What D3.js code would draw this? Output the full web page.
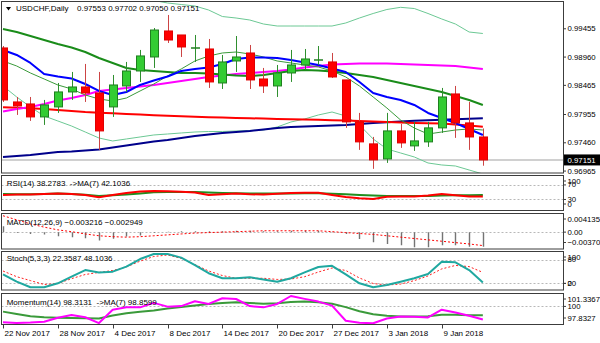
<!DOCTYPE html>
<html><head><meta charset="utf-8">
<script src="https://cdn.jsdelivr.net/npm/d3@7"></script>
<style>
body{margin:0;background:#fff}
svg{display:block;font-family:"Liberation Sans",Arial,sans-serif;font-size:8px}
</style>
</head><body>
<svg id="chart" width="600" height="343"></svg>
<script>
// ---- USDCHF daily candles ----
const symbol = "USDCHF", period = "Daily";
const dates = ["2017-11-22","2017-11-23","2017-11-24","2017-11-27","2017-11-28","2017-11-29","2017-11-30","2017-12-01",
  "2017-12-04","2017-12-05","2017-12-06","2017-12-07","2017-12-08","2017-12-11","2017-12-12","2017-12-13",
  "2017-12-14","2017-12-15","2017-12-18","2017-12-19","2017-12-20","2017-12-21","2017-12-22","2017-12-26",
  "2017-12-27","2017-12-28","2017-12-29","2018-01-02","2018-01-03","2018-01-04","2018-01-05","2018-01-08",
  "2018-01-09","2018-01-10","2018-01-11","2018-01-12"];
const open  = [0.99111,0.98166,0.98131,0.97904,0.98079,0.98341,0.98428,0.98323,0.98079,0.98446,0.98708,0.98953,
  0.99408,0.99338,0.99105,0.99093,0.98498,0.98883,0.99023,0.98568,0.98446,0.98673,0.98813,0.98898,
  0.98866,0.98551,0.97817,0.97432,0.97169,0.97659,0.97397,0.97467,0.97712,0.98306,0.97799,0.97553];
const high  = [0.99145,0.98253,0.98253,0.98201,0.98498,0.98691,0.98831,0.98691,0.98638,0.98866,0.99076,0.99460,
  0.99688,0.99338,0.99338,0.99268,0.98988,0.99320,0.99163,0.98761,0.98813,0.99076,0.99093,0.99145,
  0.99023,0.98551,0.97974,0.97554,0.97974,0.97782,0.97817,0.97817,0.98411,0.98446,0.98166,0.97702];
const low   = [0.98166,0.97939,0.97834,0.97764,0.97974,0.98201,0.98166,0.97327,0.97904,0.98341,0.98516,0.98761,
  0.99198,0.98953,0.98866,0.98411,0.98393,0.98691,0.98393,0.98323,0.98253,0.98516,0.98726,0.98813,
  0.98586,0.97712,0.97327,0.96995,0.97099,0.97362,0.97309,0.97379,0.97624,0.97537,0.97327,0.97050];
const close = [0.98201,0.98096,0.97904,0.98114,0.98341,0.98428,0.98323,0.97659,0.98463,0.98708,0.98971,0.99425,
  0.99250,0.99128,0.99111,0.98516,0.98866,0.98953,0.98551,0.98446,0.98673,0.98813,0.98918,0.98903,
  0.98603,0.97817,0.97467,0.97152,0.97659,0.97449,0.97484,0.97712,0.98253,0.97799,0.97553,0.97151];

// ---- price overlays ----
const bandUpper = [null,null,null,null,null,null,null,null,null,null,null,
  0.99941,0.99898,0.99871,0.99845,0.99775,0.99661,0.99635,0.99600,0.99530,0.99495,0.99495,0.99495,0.99495,
  0.99495,0.99548,0.99635,0.99714,0.99784,0.99822,0.99801,0.99714,0.99618,0.99530,0.99390,0.99364];
const bandMiddle = [0.99443,0.99390,0.99320,0.99250,0.99180,0.99119,0.99040,0.98935,0.98848,0.98760,0.98725,0.98708,
  0.98690,0.98673,0.98673,0.98664,0.98646,0.98629,0.98620,0.98638,0.98673,0.98708,0.98725,0.98716,
  0.98699,0.98673,0.98638,0.98603,0.98550,0.98498,0.98445,0.98393,0.98340,0.98270,0.98200,0.98113];
const bandLower = [0.98445,0.98253,0.98078,0.97920,0.97833,0.97745,0.97640,0.97535,0.97483,0.97518,0.97553,0.97588,
  0.97605,0.97623,0.97640,0.97649,0.97649,0.97658,0.97666,0.97675,0.97728,0.97815,0.97868,0.97938,
  0.97990,0.97920,0.97763,0.97518,0.97343,0.97273,0.97203,0.97098,0.97063,0.97045,0.96975,0.96905];
const maFast = [0.98883,0.98795,0.98673,0.98568,0.98463,0.98393,0.98288,0.98218,0.98183,0.98235,0.98358,0.98480,
  0.98620,0.98743,0.98883,0.98970,0.99023,0.99040,0.99005,0.98953,0.98883,0.98848,0.98813,0.98778,
  0.98708,0.98603,0.98445,0.98253,0.98060,0.97850,0.97710,0.97605,0.97640,0.97675,0.97693,0.97675];
const maBlue = [0.99075,0.98988,0.98848,0.98655,0.98611,0.98576,0.98480,0.98358,0.98288,0.98340,0.98463,0.98541,
  0.98611,0.98708,0.98743,0.98769,0.98830,0.98918,0.98944,0.98944,0.98935,0.98900,0.98856,0.98813,
  0.98751,0.98690,0.98515,0.98323,0.98253,0.98200,0.98113,0.97973,0.97885,0.97798,0.97693,0.97588];
const maMagenta = [0.97999,0.98043,0.98078,0.98130,0.98191,0.98235,0.98288,0.98358,0.98384,0.98410,0.98436,0.98463,
  0.98498,0.98533,0.98568,0.98603,0.98629,0.98655,0.98673,0.98690,0.98708,0.98734,0.98769,0.98795,
  0.98821,0.98830,0.98839,0.98839,0.98839,0.98830,0.98821,0.98813,0.98804,0.98795,0.98769,0.98743];
const maRed = [0.98072,0.98064,0.98055,0.98043,0.98025,0.98008,0.97990,0.97978,0.97967,0.97955,0.97945,0.97934,
  0.97924,0.97915,0.97908,0.97899,0.97892,0.97885,0.97880,0.97875,0.97868,0.97864,0.97859,0.97854,
  0.97847,0.97840,0.97833,0.97824,0.97815,0.97806,0.97798,0.97792,0.97787,0.97771,0.97754,0.97733];
const maNavy = [0.97203,0.97220,0.97238,0.97264,0.97290,0.97299,0.97316,0.97334,0.97369,0.97404,0.97439,0.97474,
  0.97500,0.97535,0.97570,0.97596,0.97623,0.97640,0.97658,0.97684,0.97710,0.97728,0.97736,0.97745,
  0.97754,0.97763,0.97780,0.97798,0.97810,0.97824,0.97836,0.97845,0.97854,0.97862,0.97871,0.97880];
const priceTicks = [0.99455,0.98960,0.98465,0.97955,0.97460,0.96965];

// ---- oscillators ----
const rsi = [42.3,43.7,43.7,45,46.4,45,42.3,36,42.3,47.8,52,53.3,52.5,51.4,49.2,42.3,44.2,46.4,44.2,43.7,
  45.6,47.8,48.6,48.6,42.3,36.8,33.2,31.3,37.6,38.2,38.2,40.9,45,41.5,38.2,38.2783];
const rsiMa = [45,44.5,44.2,45,46.4,45,42.9,39.6,41.5,43.7,46.4,49.7,50.5,50.5,50.5,49.2,47.8,47,46.4,46.4,
  46.4,46.7,47,47,45.6,44.2,42.3,40.9,39.6,39.6,39.6,39.6,40.9,41.5,41.8,42.1036];
const rsiTicks = [100,70,30,0], rsiLevels = [70,30];

const macd = [0.0013,-0.0002,-0.0004,-0.00054,-0.00091,-0.00113,-0.00135,-0.00185,-0.00148,-0.00098,-0.00076,-0.00017,
  0.0001,0.0002,0.0002,0.0002,0.0002,0.0003,0.0003,0.0002,0.0002,0.0003,0.0003,0.0003,
  0.0001,-0.0004,-0.0015,-0.0022,-0.0026,-0.0029,-0.0033,-0.0033,-0.0029,-0.0029,-0.0032,-0.003216];
const macdSignal = [0.0036,0.0027,0.0018,0.0011,0.0005,0.0001,-0.0004,-0.0008,-0.0010,-0.0011,-0.0010,-0.0008,
  -0.0006,-0.0004,-0.0002,-0.0001,0,0.0001,0.0002,0.0003,0.0003,0.0003,0.0003,0.0003,
  0.0001,-0.0001,-0.0003,-0.0005,-0.0008,-0.0011,-0.0014,-0.0017,-0.0020,-0.0023,-0.0026,-0.002949];
const macdTicks = [0.004135,0,-0.003704], macdLevels = [0];

const stochMain = [43.2,24.2,9.8,9.8,20,37,54,48,50,63,82.5,95.4,95.4,86,67,46,33,33,35.5,30,
  24,33,48,62,65,43,20,10,15.7,24,33,44,75.6,74,54,22.3587];
const stochSignal = [51.7,37,27,17,19.5,32,42.7,48,53,62,77,89,92.8,84,68,51.7,40,33,33,33,
  30,31,37,49,59.4,53,33.7,19.5,15.7,18,27,39,57,66,63,48.1036];
const stochTicks = [100,80,20,0], stochLevels = [80,20];

const momentum = [97.96,97.86,97.92,98.03,98.55,98.90,98.61,97.86,99.58,99.88,99.88,100.45,99.97,100.04,100.66,100.32,
  101.05,100.95,100.04,99.88,100.32,101.3367,100.97,100.62,100.10,98.16,97.90,97.8327,98.45,98.72,98.68,98.59,
  99.58,99.23,98.81,98.3131];
const momentumMa = [99.33,99.03,98.74,98.61,98.55,98.51,98.48,98.46,98.83,99.13,99.33,99.48,99.74,99.91,100.13,100.32,
  100.44,100.52,100.45,100.34,100.41,100.56,100.62,100.52,100.34,99.91,99.39,99.00,98.81,98.72,98.72,98.74,
  98.94,98.94,98.87,98.8599];
const momTicks = [101.3367,100,97.8327], momLevels = [100];

// ---- layout ----
const svg = d3.select("#chart");
const left = 1.5, right = 563.5;
const panes = {
  main:  {top: 1.5,   bottom: 173},
  rsi:   {top: 175.5, bottom: 210.5},
  macd:  {top: 213.5, bottom: 249},
  stoch: {top: 251.5, bottom: 290},
  mom:   {top: 293.5, bottom: 324.5}
};
const n = dates.length, last = n - 1;
const x = d3.scaleLinear().domain([0, last]).range([3, 482.85]);
const yMain  = d3.scaleLinear().domain([0.96965, 0.99455]).range([170.57, 28.29]);
const yRsi   = d3.scaleLinear().domain([0, 100]).range([210.4, 174]);
const yMacd  = d3.scaleLinear().domain([-0.003704, 0.004135]).range([249, 213.3]);
const yStoch = d3.scaleLinear().domain([0, 100]).range([291.1, 252.2]);
const yMom   = d3.scaleLinear().domain([97.8327, 101.3367]).range([323.3, 296]);

svg.append("rect").attr("width", 600).attr("height", 343).attr("fill", "#fff");
const defs = svg.append("defs");
const layers = {};
Object.entries(panes).forEach(([k, p]) => {
  defs.append("clipPath").attr("id", "clip-" + k).append("rect")
    .attr("x", left).attr("y", p.top).attr("width", right - left).attr("height", p.bottom - p.top);
  layers[k] = svg.append("g").attr("clip-path", `url(#clip-${k})`);
});

function drawLine(g, data, y, color, width, dash) {
  const line = d3.line().defined(d => d != null).x((d, i) => x(i)).y(d => y(d));
  g.append("path").datum(data).attr("d", line).attr("fill", "none")
    .attr("stroke", color).attr("stroke-width", width)
    .attr("stroke-linejoin", "round").attr("stroke-dasharray", dash || null);
}
function levels(g, vals, y) {
  g.selectAll(null).data(vals).enter().append("line")
    .attr("x1", left).attr("x2", right)
    .attr("y1", d => Math.round(y(d)) + 0.5).attr("y2", d => Math.round(y(d)) + 0.5)
    .attr("stroke", "#b8b8b8").attr("stroke-width", 1).attr("stroke-dasharray", "2,2");
}

// ---- main pane ----
const gm = layers.main;
gm.append("line").attr("x1", left).attr("x2", right)
  .attr("y1", yMain(close[last])).attr("y2", yMain(close[last]))
  .attr("stroke", "#d0d0d0").attr("stroke-width", 2);
drawLine(gm, bandUpper, yMain, "#6cc894", 1);
drawLine(gm, bandLower, yMain, "#6cc894", 1);
drawLine(gm, maNavy, yMain, "#00008b", 2);
drawLine(gm, maRed, yMain, "#ff0000", 2);
drawLine(gm, maMagenta, yMain, "#ff00ff", 2);
drawLine(gm, bandMiddle, yMain, "#1a8c1a", 2);
drawLine(gm, maFast, yMain, "#3a9a3a", 1);
drawLine(gm, maBlue, yMain, "#0000ff", 2);

const candles = d3.range(n).map(i => ({i, o: open[i], h: high[i], l: low[i], c: close[i]}));
const cg = gm.selectAll(".candle").data(candles).enter().append("g");
cg.append("line")
  .attr("x1", d => Math.round(x(d.i)) + 0.5).attr("x2", d => Math.round(x(d.i)) + 0.5)
  .attr("y1", d => yMain(d.h)).attr("y2", d => yMain(d.l))
  .attr("stroke", d => d.c >= d.o ? "#2f8f2f" : "#cc4444").attr("stroke-width", 1);
cg.each(function(d) {
  const g = d3.select(this);
  const cx = Math.round(x(d.i));
  const yTop = yMain(Math.max(d.o, d.c)), yBot = yMain(Math.min(d.o, d.c));
  if (yBot - yTop < 1.5) {
    g.append("line").attr("x1", cx - 4).attr("x2", cx + 5)
      .attr("y1", (yTop + yBot) / 2).attr("y2", (yTop + yBot) / 2)
      .attr("stroke", "#1f7f1f").attr("stroke-width", 1.5);
  } else {
    const up = d.c >= d.o;
    g.append("rect").attr("x", cx - 3.5).attr("y", yTop).attr("width", 8).attr("height", yBot - yTop)
      .attr("fill", up ? "#33cc33" : "#ff0000").attr("stroke", up ? "#1f7f1f" : "#e00000").attr("stroke-width", 1);
  }
});

// ---- RSI ----
levels(layers.rsi, rsiLevels, yRsi);
drawLine(layers.rsi, rsiMa, yRsi, "#1f8f1f", 2);
drawLine(layers.rsi, rsi, yRsi, "#ff0000", 2);

// ---- MACD ----
levels(layers.macd, macdLevels, yMacd);
layers.macd.selectAll(null).data(macd).enter().append("line")
  .attr("x1", (d, i) => Math.round(x(i)) + 0.5).attr("x2", (d, i) => Math.round(x(i)) + 0.5)
  .attr("y1", yMacd(0)).attr("y2", d => yMacd(d))
  .attr("stroke", "#747474").attr("stroke-width", 1.4);
drawLine(layers.macd, macdSignal, yMacd, "#ff0000", 1, "2,2");

// ---- Stochastic ----
levels(layers.stoch, stochLevels, yStoch);
drawLine(layers.stoch, stochSignal, yStoch, "#ff2020", 1, "2,2");
drawLine(layers.stoch, stochMain, yStoch, "#20a8a0", 2);

// ---- Momentum ----
levels(layers.mom, momLevels, yMom);
drawLine(layers.mom, momentumMa, yMom, "#3a9a3a", 2);
drawLine(layers.mom, momentum, yMom, "#ff00ff", 2);

// ---- pane borders ----
Object.values(panes).forEach(p => {
  svg.append("rect").attr("x", left).attr("y", p.top).attr("width", right - left).attr("height", p.bottom - p.top)
    .attr("fill", "none").attr("stroke", "#3c3c3c").attr("stroke-width", 1);
});

// ---- right-hand scales ----
const labelFont = "Liberation Sans, Arial, sans-serif";
function rightAxis(y, ticks, fmt, pane) {
  const g = svg.append("g").attr("transform", `translate(${right},0)`)
    .call(d3.axisRight(y).tickValues(ticks).tickSize(2.5).tickPadding(1.5).tickFormat(fmt));
  g.select(".domain").remove();
  g.selectAll("line").attr("stroke", "#3c3c3c");
  g.selectAll("text").attr("font-size", 7.8).attr("font-family", labelFont).attr("fill", "#000");
  if (pane) {
    g.selectAll(".tick").attr("transform", d => {
      const yy = Math.min(Math.max(y(d), pane.top + 5.5), pane.bottom - 6.5);
      return `translate(0,${yy})`;
    });
  }
  return g;
}
rightAxis(yMain, priceTicks, d3.format(".5f"));
rightAxis(yRsi, rsiTicks, d3.format("d"), panes.rsi);
rightAxis(yMacd, macdTicks, d => d === 0 ? "0.00" : d3.format(".6f")(d), panes.macd);
rightAxis(yStoch, stochTicks, d3.format("d"), panes.stoch);
rightAxis(yMom, momTicks, d => d === 100 ? "100" : d3.format(".4f")(d), panes.mom);

// last price marker
const yl = yMain(close[last]);
svg.append("rect").attr("x", 564).attr("y", yl - 5.5).attr("width", 36).attr("height", 11).attr("fill", "#000");
svg.append("text").attr("x", 567.5).attr("y", yl + 3).attr("fill", "#fff").attr("font-size", 7.8)
  .text(d3.format(".5f")(close[last]));

// ---- time axis ----
const parse = d3.timeParse("%Y-%m-%d"), fmtDate = d3.timeFormat("%-d %b %Y");
const ta = svg.append("g").attr("transform", `translate(0,${panes.mom.bottom})`)
  .call(d3.axisBottom(x).tickValues(d3.range(0, n, 4)).tickSize(4).tickPadding(2.2)
    .tickFormat(i => fmtDate(parse(dates[i]))));
ta.select(".domain").remove();
ta.selectAll(".tick").attr("transform", d => `translate(${Math.round(x(d)) + 0.5},0)`);
ta.selectAll("line").attr("stroke", "#3c3c3c");
ta.selectAll("text").attr("text-anchor", "start").attr("x", 1)
  .attr("font-size", 8).attr("font-family", labelFont).attr("fill", "#000");

// ---- captions ----
svg.append("path").attr("d", "M6,7L11,7L8.5,10.5Z").attr("fill", "#000");
svg.append("text").attr("x", 16).attr("y", 11.3).text(`${symbol},${period}`);
svg.append("text").attr("x", 77).attr("y", 11.3)
  .text([open[last], high[last], low[last], close[last]].map(d3.format(".5f")).join(" "));
const f4 = d3.format(".4f"), f6 = d3.format(".6f");
const caption = (yy, s) => svg.append("text").attr("x", 6.7).attr("y", yy).style("white-space", "pre").text(s);
caption(186.3, `RSI(14) ${f4(rsi[last])}  ->MA(7) ${f4(rsiMa[last])}`);
caption(224.7, `MACD(12,26,9) ${f6(macd[last])} ${f6(macdSignal[last])}`);
caption(261.3, `Stoch(5,3,3) ${f4(stochMain[last])} ${f4(stochSignal[last])}`);
caption(304.7, `Momentum(14) ${f4(momentum[last])}  ->MA(7) ${f4(momentumMa[last])}`);
</script>
</body></html>
